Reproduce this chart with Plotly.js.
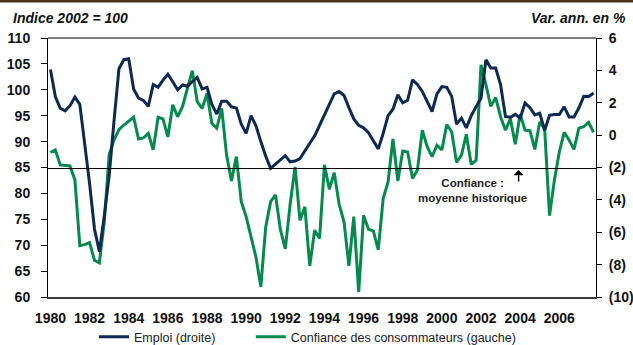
<!DOCTYPE html>
<html>
<head>
<meta charset="utf-8">
<script src="https://cdn.plot.ly/plotly-3.0.1.min.js"></script>
<style>
  html, body { margin: 0; padding: 0; background: #ffffff; }
  #chart { width: 633px; height: 345px; }
</style>
</head>
<body>
<div id="chart"></div>
<script>
// Quarterly series, 1980Q1 to 2007Q4
const startYear = 1980;

// Emploi, variation annuelle en % (axe de droite)
const emploi = [
  4.05, 2.38, 1.66, 1.50, 1.82, 2.35, 1.90, -0.50, -3.00, -5.80,
  -7.20, -5.00, -2.50, 0.90, 4.10, 4.66, 4.72, 2.85, 2.28, 2.14,
  1.78, 3.12, 2.95, 3.40, 3.76, 3.30, 2.80, 3.10, 3.02, 3.31,
  3.56, 2.86, 2.95, 1.90, 1.30, 2.10, 2.10, 1.75, 1.68, 0.67,
  0.11, 1.20, 0.58, -0.40, -1.30, -2.05, -1.80, -1.55, -1.27, -1.65,
  -1.60, -1.45, -0.95, -0.50, -0.05, 0.60, 1.20, 1.90, 2.55, 2.69,
  2.45, 1.70, 1.00, 0.60, 0.45, 0.15, -0.35, -0.85, 0.10, 1.20,
  1.60, 2.50, 2.00, 2.15, 3.42, 3.13, 2.70, 2.10, 1.46, 2.55,
  3.00, 2.95, 2.40, 0.68, 1.05, 0.45, 1.20, 1.76, 2.28, 4.65,
  4.14, 4.14, 3.10, 1.15, 1.10, 1.28, 1.05, 1.98, 1.70, 1.25,
  1.36, 0.30, 1.22, 1.27, 1.27, 1.75, 1.12, 1.12, 1.67, 2.40,
  2.38, 2.60
];

// Confiance des consommateurs, indice 2002 = 100 (axe de gauche)
const confiance = [
  87.9, 88.4, 85.5, 85.4, 85.3, 82.6, 69.9, 70.1, 70.5, 67.1,
  66.6, 74.5, 87.5, 90.3, 92.3, 93.2, 93.9, 94.7, 90.5, 90.7,
  91.6, 88.4, 94.7, 94.4, 90.9, 97.1, 94.8, 96.8, 100.3, 103.7,
  97.7, 96.4, 99.3, 93.5, 92.6, 96.4, 87.4, 82.4, 87.1, 78.4,
  75.5, 71.3, 67.7, 62.0, 73.5, 78.4, 79.7, 73.0, 69.3, 78.0,
  85.1, 74.8, 77.4, 66.0, 72.9, 71.3, 85.5, 80.8, 84.0, 77.9,
  74.5, 66.0, 75.5, 61.0, 75.8, 73.1, 72.7, 69.1, 79.0, 82.2,
  90.5, 82.4, 88.2, 88.0, 82.9, 84.5, 92.2, 89.0, 87.1, 89.3,
  88.4, 93.3, 91.9, 86.0, 87.4, 91.4, 85.6, 86.4, 104.8, 101.0,
  96.8, 98.5, 94.8, 92.2, 94.4, 89.5, 95.3, 92.2, 92.1, 88.5,
  93.8, 92.5, 75.7, 82.6, 88.0, 91.8, 90.3, 88.5, 92.6, 92.9,
  93.7, 91.8
];

// Moyenne historique de la confiance
const confianceMoyenne = 84.8;

// Axis labels
const xTickYears = [1980, 1982, 1984, 1986, 1988, 1990, 1992, 1994, 1996, 1998, 2000, 2002, 2004, 2006];
const leftTickVals = [60, 65, 70, 75, 80, 85, 90, 95, 100, 105, 110];
const rightTickVals = [6, 4, 2, 0, -2, -4, -6, -8, -10];
const rightTickText = ['6', '4', '2', '0', '(2)', '(4)', '(6)', '(8)', '(10)'];

const quarters = emploi.map((_, i) => startYear + i / 4);

const NAVY = '#0e2a52';
const GREEN = '#05894c';
const FONT = 'Liberation Sans, Arial, sans-serif';

const traces = [
  {
    x: quarters, y: emploi, yaxis: 'y2',
    type: 'scatter', mode: 'lines',
    name: 'Emploi (droite)', legend: 'legend',
    line: { color: NAVY, width: 3 }
  },
  {
    x: quarters, y: confiance, yaxis: 'y',
    type: 'scatter', mode: 'lines',
    name: 'Confiance des consommateurs (gauche)', legend: 'legend2',
    line: { color: GREEN, width: 3 }
  }
];

const tickFont = { family: FONT, size: 14, color: '#111', weight: 'bold' };
const legendFont = { family: FONT, size: 12.5, color: '#222' };

const layout = {
  width: 633, height: 345,
  margin: { l: 48, r: 37, t: 38, b: 48, autoexpand: false },
  paper_bgcolor: '#ffffff', plot_bgcolor: '#ffffff',
  showlegend: true,
  legend: {
    orientation: 'h', x: 0.084, xanchor: 'left', y: -0.155, yanchor: 'middle',
    font: legendFont, bgcolor: 'rgba(0,0,0,0)', itemwidth: 30
  },
  legend2: {
    orientation: 'h', x: 0.37, xanchor: 'left', y: -0.155, yanchor: 'middle',
    font: legendFont, bgcolor: 'rgba(0,0,0,0)', itemwidth: 30
  },
  xaxis: {
    range: [1979.875, 2007.875], tickvals: xTickYears, tickformat: 'd',
    showgrid: false, zeroline: false,
    showline: true, linecolor: '#3c3c3c', linewidth: 2,
    ticks: '', ticklabelstandoff: 7, tickfont: tickFont
  },
  yaxis: {
    range: [60, 110], tickvals: leftTickVals,
    showgrid: false, zeroline: false,
    showline: true, linecolor: '#000', linewidth: 1,
    ticks: 'outside', ticklen: 6, tickcolor: '#000', tickwidth: 1,
    ticklabelstandoff: 8, tickfont: tickFont
  },
  yaxis2: {
    range: [-10, 6], tickvals: rightTickVals, ticktext: rightTickText,
    overlaying: 'y', side: 'right',
    showgrid: false, zeroline: false,
    showline: true, linecolor: '#000', linewidth: 1,
    ticks: 'outside', ticklen: 5, tickcolor: '#000', tickwidth: 1,
    ticklabelstandoff: 4, tickfont: tickFont
  },
  shapes: [
    // top rule of the page
    { type: 'rect', xref: 'paper', yref: 'paper',
      x0: -48 / 548, x1: 1 + 37 / 548, y0: 1 + 35.5 / 259, y1: 1 + 38 / 259,
      fillcolor: '#4a3117', line: { width: 0 } },
    // top frame line
    { type: 'line', xref: 'paper', yref: 'paper', x0: 0, x1: 1, y0: 1, y1: 1,
      line: { color: '#000', width: 1 } },
    // historical average of confidence
    { type: 'line', xref: 'paper', yref: 'y', x0: 0, x1: 1,
      y0: confianceMoyenne, y1: confianceMoyenne,
      line: { color: '#000', width: 1 } }
  ],
  annotations: [
    { xref: 'paper', yref: 'paper', x: -37 / 548, y: 1 + 20 / 259,
      xanchor: 'left', yanchor: 'middle', showarrow: false,
      text: 'Indice 2002 = 100',
      font: { family: FONT, size: 14, color: '#111', weight: 'bold', style: 'italic' } },
    { xref: 'paper', yref: 'paper', x: 1 + 32 / 548, y: 1 + 20 / 259,
      xanchor: 'right', yanchor: 'middle', showarrow: false,
      text: 'Var. ann. en %',
      font: { family: FONT, size: 14, color: '#111', weight: 'bold', style: 'italic' } },
    { xref: 'x', yref: 'y', x: 2001.54, y: 80.6,
      xanchor: 'center', yanchor: 'middle', showarrow: false,
      text: 'Confiance :<br>moyenne historique',
      font: { family: FONT, size: 11.5, color: '#222', weight: 'bold' } },
    { xref: 'x', yref: 'y', x: 2003.92, y: confianceMoyenne - 0.3,
      ax: 0, ay: 13, text: '', showarrow: true,
      arrowhead: 1, arrowsize: 1.2, arrowwidth: 1.4, arrowcolor: '#000', standoff: 0 }
  ]
};

Plotly.newPlot('chart', traces, layout, { displayModeBar: false, staticPlot: true });
</script>
</body>
</html>
